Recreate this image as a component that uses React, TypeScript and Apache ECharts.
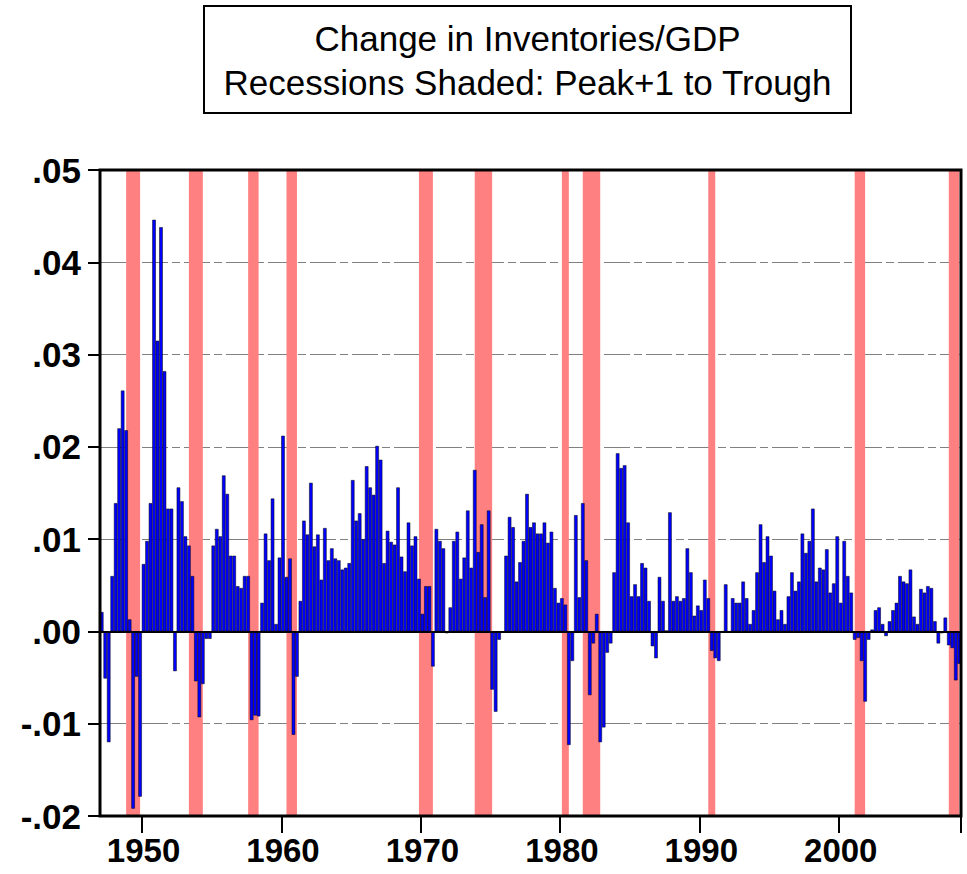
import React, { useEffect, useRef } from "react";
import * as echarts from "echarts";

// ---- data ----
const START_YEAR = 1947;
const QUARTER_COUNT = 247; // 1947Q1 .. 2008Q3
const categories: string[] = [];
for (let i = 0; i < QUARTER_COUNT; i++) {
  categories.push(`${START_YEAR + Math.floor(i / 4)}Q${(i % 4) + 1}`);
}

// change in inventories / GDP, quarterly (rows = years)
const inventoryToGdp: number[] = [
  0.0021, -0.0051, -0.0120, 0.0060, // 1947
  0.0139, 0.0220, 0.0261, 0.0218, // 1948
  0.0013, -0.0192, -0.0049, -0.0179, // 1949
  0.0073, 0.0098, 0.0139, 0.0446, // 1950
  0.0315, 0.0438, 0.0282, 0.0133, // 1951
  0.0133, -0.0043, 0.0156, 0.0141, // 1952
  0.0103, 0.0093, 0.0060, -0.0054, // 1953
  -0.0093, -0.0057, -0.0008, -0.0008, // 1954
  0.0093, 0.0111, 0.0103, 0.0169, // 1955
  0.0149, 0.0082, 0.0082, 0.0049, // 1956
  0.0047, 0.0060, 0.0060, -0.0096, // 1957
  -0.0091, -0.0092, 0.0031, 0.0106, // 1958
  0.0077, 0.0144, 0.0008, 0.0080, // 1959
  0.0212, 0.0059, 0.0079, -0.0112, // 1960
  -0.0049, 0.0033, 0.0120, 0.0105, // 1961
  0.0161, 0.0092, 0.0105, 0.0056, // 1962
  0.0112, 0.0077, 0.0090, 0.0079, // 1963
  0.0077, 0.0067, 0.0069, 0.0074, // 1964
  0.0164, 0.0120, 0.0128, 0.0100, // 1965
  0.0179, 0.0156, 0.0148, 0.0201, // 1966
  0.0186, 0.0074, 0.0109, 0.0097, // 1967
  0.0094, 0.0156, 0.0081, 0.0065, // 1968
  0.0118, 0.0093, 0.0103, 0.0057, // 1969
  0.0019, 0.0049, 0.0049, -0.0038, // 1970
  0.0111, 0.0098, 0.0090, -0.0002, // 1971
  0.0026, 0.0098, 0.0108, 0.0057, // 1972
  0.0080, 0.0131, 0.0069, 0.0175, // 1973
  0.0086, 0.0116, 0.0037, 0.0131, // 1974
  -0.0063, -0.0087, -0.0009, -0.0001, // 1975
  0.0082, 0.0124, 0.0113, 0.0054, // 1976
  0.0075, 0.0098, 0.0149, 0.0113, // 1977
  0.0118, 0.0106, 0.0106, 0.0118, // 1978
  0.0096, 0.0108, 0.0047, 0.0031, // 1979
  0.0036, 0.0029, -0.0123, -0.0032, // 1980
  0.0126, 0.0037, 0.0139, 0.0077, // 1981
  -0.0069, -0.0013, 0.0019, -0.0120, // 1982
  -0.0104, -0.0023, -0.0013, 0.0064, // 1983
  0.0193, 0.0177, 0.0180, 0.0118, // 1984
  0.0038, 0.0051, 0.0038, 0.0074, // 1985
  0.0069, 0.0033, -0.0016, -0.0029, // 1986
  0.0059, 0.0033, 0.0001, 0.0129, // 1987
  0.0033, 0.0038, 0.0033, 0.0036, // 1988
  0.0090, 0.0064, 0.0017, 0.0028, // 1989
  0.0023, 0.0056, 0.0036, -0.0021, // 1990
  -0.0029, -0.0032, 0.0000, 0.0051, // 1991
  0.0000, 0.0036, 0.0031, 0.0031, // 1992
  0.0054, 0.0036, 0.0008, 0.0023, // 1993
  0.0064, 0.0116, 0.0075, 0.0103, // 1994
  0.0082, 0.0044, 0.0013, 0.0023, // 1995
  0.0008, 0.0038, 0.0064, 0.0044, // 1996
  0.0054, 0.0106, 0.0085, 0.0098, // 1997
  0.0133, 0.0054, 0.0069, 0.0067, // 1998
  0.0089, 0.0042, 0.0052, 0.0103, // 1999
  0.0031, 0.0098, 0.0060, 0.0042, // 2000
  -0.0009, -0.0007, -0.0032, -0.0076, // 2001
  -0.0009, 0.0002, 0.0023, 0.0026, // 2002
  0.0008, -0.0005, 0.0011, 0.0023, // 2003
  0.0031, 0.0060, 0.0054, 0.0052, // 2004
  0.0067, 0.0016, 0.0008, 0.0046, // 2005
  0.0042, 0.0049, 0.0047, 0.0011, // 2006
  -0.0013, -0.0002, 0.0015, -0.0015, // 2007
  -0.0018, -0.0053, -0.0035, // 2008
];

// recessions shaded: peak+1 to trough
const recessions: [string, string][] = [
  ["1949Q1", "1949Q4"],
  ["1953Q3", "1954Q2"],
  ["1957Q4", "1958Q2"],
  ["1960Q3", "1961Q1"],
  ["1970Q1", "1970Q4"],
  ["1974Q1", "1975Q1"],
  ["1980Q2", "1980Q3"],
  ["1981Q4", "1982Q4"],
  ["1990Q4", "1991Q1"],
  ["2001Q2", "2001Q4"],
  ["2008Q1", "2008Q3"],
];

const xTickYears = ["1950", "1960", "1970", "1980", "1990", "2000"];
const Y_MIN = -0.02;
const Y_MAX = 0.05;
const Y_STEP = 0.01;

const titleLines = ["Change in Inventories/GDP", "Recessions Shaded: Peak+1 to Trough"];

const FONT = '"Liberation Sans", Arial, Helvetica, sans-serif';

function isDecadeStart(value: string): boolean {
  return value.endsWith("Q1") && xTickYears.includes(value.slice(0, 4));
}

function fmtY(v: number): string {
  const s = (Math.round(v * 100) / 100).toFixed(2);
  return s.replace(/^(-?)0\./, "$1.");
}

export default function App() {
  const ref = useRef<HTMLDivElement>(null);

  useEffect(() => {
    document.body.style.margin = "0";
    if (!ref.current) return;
    const chart = echarts.init(ref.current, undefined, { renderer: "svg" });

    const recessionData = recessions.map(([a, b]) => [
      categories.indexOf(a),
      categories.indexOf(b),
    ]);

    const option: any = {
      animation: false,
      backgroundColor: "#ffffff",
      grid: {
        left: 100,
        right: 6,
        top: 170,
        bottom: 58,
        show: true,
        borderColor: "#000000",
        borderWidth: 3,
        backgroundColor: "transparent",
        z: 10,
      },
      graphic: [
        {
          type: "rect",
          shape: { x: 204, y: 6, width: 647, height: 107 },
          style: { fill: "#ffffff", stroke: "#000000", lineWidth: 2 },
        },
        {
          type: "text",
          x: 527.5,
          y: 38,
          style: {
            text: titleLines[0],
            fontSize: 35,
            fontFamily: FONT,
            fill: "#000000",
            align: "center",
            verticalAlign: "middle",
          },
        },
        {
          type: "text",
          x: 527.5,
          y: 82,
          style: {
            text: titleLines[1],
            fontSize: 35,
            fontFamily: FONT,
            fill: "#000000",
            align: "center",
            verticalAlign: "middle",
          },
        },
      ],
      xAxis: {
        type: "category",
        data: categories,
        boundaryGap: true,
        axisLine: { show: false, onZero: false },
        axisTick: {
          show: true,
          inside: false,
          length: 17,
          interval: (_i: number, v: string) => isDecadeStart(v),
          lineStyle: { color: "#000000", width: 2 },
        },
        axisLabel: {
          show: true,
          interval: (_i: number, v: string) => isDecadeStart(v),
          formatter: (v: string) => v.slice(0, 4),
          margin: 18,
          color: "#000000",
          fontSize: 33,
          fontWeight: "bold",
          fontFamily: FONT,
        },
        splitLine: { show: false },
      },
      yAxis: {
        type: "value",
        min: Y_MIN,
        max: Y_MAX,
        interval: Y_STEP,
        axisLine: { show: false },
        axisTick: {
          show: true,
          inside: false,
          length: 12,
          lineStyle: { color: "#000000", width: 2 },
        },
        axisLabel: {
          formatter: fmtY,
          margin: 19,
          color: "#000000",
          fontSize: 35,
          fontWeight: "bold",
          fontFamily: FONT,
        },
        splitLine: {
          show: true,
          lineStyle: { color: "#808080", width: 1, type: [26, 4, 8, 4] },
        },
      },
      series: [
        {
          type: "custom",
          name: "Recessions",
          z: 1,
          silent: true,
          clip: true,
          encode: { x: [0, 1] },
          data: recessionData,
          renderItem: (_params: any, api: any) => {
            const s = api.value(0);
            const e = api.value(1);
            const top = api.coord([s, Y_MAX]);
            const bot = api.coord([e, Y_MIN]);
            const bw = api.size([1, 0])[0];
            // shaded from the centre of the quarter before the first one to the centre of the last
            return {
              type: "rect",
              shape: {
                x: top[0] - bw,
                y: top[1],
                width: bot[0] - top[0] + bw,
                height: bot[1] - top[1],
              },
              style: { fill: "#FF8080" },
            };
          },
        },
        {
          type: "bar",
          name: "Change in Inventories/GDP",
          z: 2,
          data: inventoryToGdp,
          barCategoryGap: "0%",
          barGap: "0%",
          itemStyle: { color: "#0000FF", borderColor: "#000000", borderWidth: 0.5 },
          markLine: {
            silent: true,
            symbol: "none",
            label: { show: false },
            lineStyle: { color: "#000000", width: 2, type: "solid" },
            data: [{ yAxis: 0 }],
          },
        },
      ],
    };

    chart.setOption(option);
    return () => {
      chart.dispose();
    };
  }, []);

  return <div ref={ref} style={{ width: 967, height: 874 }} />;
}
